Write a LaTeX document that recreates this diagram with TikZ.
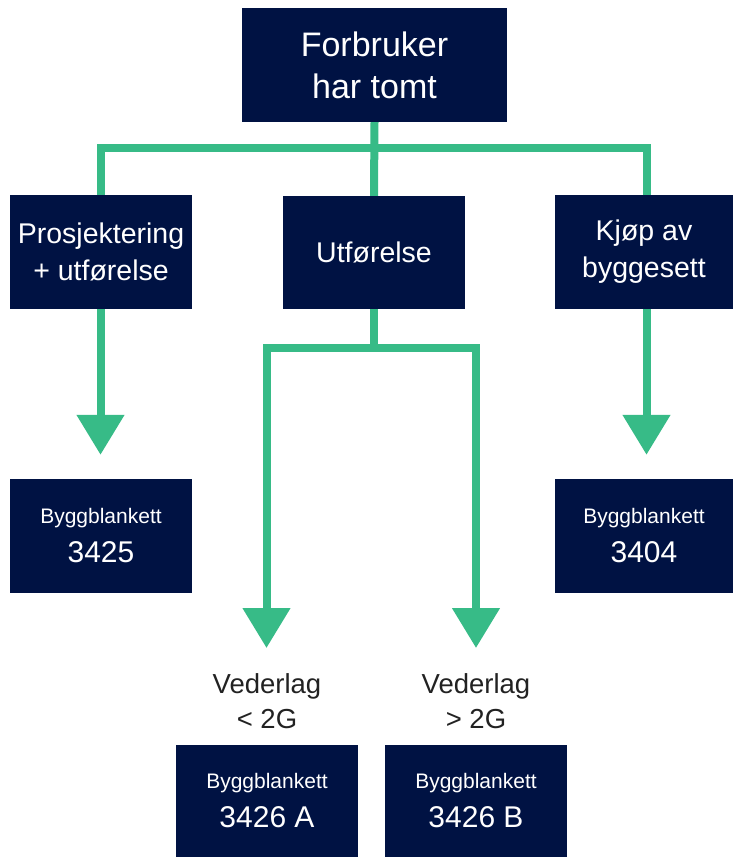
\documentclass[tikz,border=0pt]{standalone}
\usepackage{fontspec}
\setmainfont{Liberation Sans}
\usetikzlibrary{arrows.meta}
\definecolor{navy}{HTML}{001243}
\definecolor{lgreen}{HTML}{37BB87}
\definecolor{ltext}{HTML}{222222}
\tikzset{
  box/.style={fill=navy, text=white, inner sep=0pt, align=center, minimum height=114pt},
  bigtxt/.style={font=\fontsize{34}{42}\selectfont},
  midtxt/.style={font=\fontsize{28.5}{37}\selectfont},
  formtxt/.style={font=\fontsize{30}{39}\selectfont},
  conn/.style={draw=lgreen, line width=8pt, line join=miter},
  arr/.style={-{Triangle[length=40pt,width=46pt]}},
  lbl/.style={text=ltext, align=center, inner sep=0pt, font=\fontsize{27.5}{35}\selectfont}
}
\newcommand{\smallform}{\fontsize{21}{26}\selectfont}
\begin{document}
\begin{tikzpicture}[x=1pt,y=-1pt]
\path[use as bounding box] (0,0) rectangle (733,857);
% boxes
\node[box,bigtxt,minimum width=265pt] (top) at (374.5,65) {Forbruker\\har tomt};
\node[box,midtxt,minimum width=182pt] (left) at (101,252) {Prosjektering\\+ utførelse};
\node[box,midtxt,minimum width=182pt,minimum height=113pt] (mid) at (374,252.5) {Utførelse};
\node[box,midtxt,minimum width=178pt] (right) at (644,252) {Kjøp av\\byggesett};
\node[box,formtxt,minimum width=182pt] (f3425) at (101,536) {{\smallform Byggblankett}\\3425};
\node[box,formtxt,minimum width=178pt] (f3404) at (644,536) {{\smallform Byggblankett}\\3404};
\node[box,formtxt,minimum width=182pt,minimum height=112pt] (fA) at (267,801) {{\smallform Byggblankett}\\3426 A};
\node[box,formtxt,minimum width=182pt,minimum height=112pt] (fB) at (476,801) {{\smallform Byggblankett}\\3426 B};
% labels
\node[lbl] (lA) at (267,701) {Vederlag\\< 2G};
\node[lbl] (lB) at (476,701) {Vederlag\\> 2G};
% connectors
\coordinate (hb) at (374.5,148);
\coordinate (mj) at (374,348);
\coordinate (ta) at (266.5,648);
\coordinate (tb) at (476,648);
\draw[conn] (top.south) -- (mid.north);
\draw[conn] ([xshift=-0.5pt]left.north) |- (hb) -| ([xshift=2.5pt]right.north);
\draw[conn,arr] ([xshift=-0.5pt]left.south) -- ([xshift=-0.5pt,yshift=24pt]f3425.north);
\draw[conn,arr] ([xshift=2.5pt]right.south) -- ([xshift=2.5pt,yshift=24pt]f3404.north);
\draw[conn] (mid.south) -- (mj);
\draw[conn,arr] (mj) -| (ta);
\draw[conn,arr] (mj) -| (tb);
\end{tikzpicture}
\end{document}
